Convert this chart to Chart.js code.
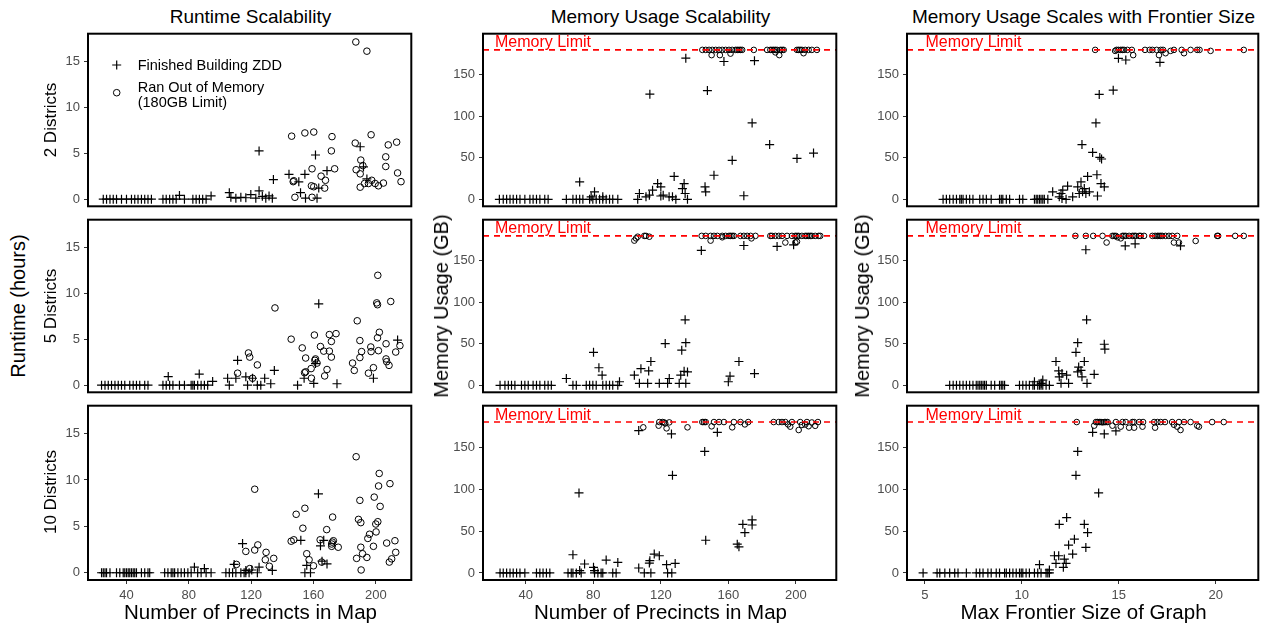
<!DOCTYPE html>
<html>
<head>
<meta charset="utf-8">
<script src="https://cdn.jsdelivr.net/npm/chart.js@4.4.1/dist/chart.umd.min.js"></script>
<style>
  body { margin: 0; background: #fff; width: 1271px; height: 626px; position: relative; overflow: hidden;
         font-family: "Liberation Sans", Arial, Helvetica, sans-serif; }
  canvas { position: absolute; }
  .t { position: absolute; white-space: nowrap; color: #000; line-height: 1; }
  .h { transform: translate(-50%, -50%); }
  .v { transform: translate(-50%, -50%) rotate(-90deg); }
  .l { transform: translate(0, -50%); }
</style>
</head>
<body>
<script>
// ---------- tick labels ----------
const runtimeTicks = [0, 5, 10, 15];
const memoryTicks = [0, 50, 100, 150];
const precinctTicks = [40, 80, 120, 160, 200];
const frontierTicks = [5, 10, 15, 20];
const memoryLimitGB = 180;

// ---------- runtime (hours) vs number of precincts ----------
// 2 districts
const rt2FinX = [25.1,27.2,29.4,31.5,33.6,36.8,40,43.2,45.3,47.4,49.6,51.7,53.8,56,
  63.4,65.5,67.7,69.8,71.9,74,77.2,82.6,84.7,86.8,88.9,91.1,94.3,
  106,107,110.2,113.4,116.6,119.8,123,125.1,127.2,129.4,131.5,133.6,
  125.1,134.3,144.3,150.6,154.5,151.7,154.9,162.3,161.3,163.4,168.7,190,192.1,194.3];
const rt2FinY = [0,0,0,0,0,0,0,0,0,0,0,0,0,0,
  0,0,0,0,0,0.4,0,0,0,0,0,0,0.35,
  0.7,0.2,0.1,0.2,0.15,0.5,0.1,0.9,0.3,0.1,0.35,0.1,
  5.25,2.13,2.7,1.88,2.7,0.7,0.1,0.1,4.8,1.2,3.1,5.7,3.5,2.2];
const rt2OomX = [187.2,194.3,146,154.5,160.2,171.9,171.5,173.6,159.1,147.4,147,158.7,160.2,164.9,167.7,167.2,148.1,159.1,
  186.8,187.4,190,190.4,191.7,197,190,192.8,195.3,197.4,199.6,201.7,204.9,208,206.4,206.4,213.4,214,216.2];
const rt2OomY = [17.1,16.1,6.85,7.2,7.3,6.8,5.25,3.3,3.3,2.0,1.9,1.45,1.35,2.5,2.05,1.2,0.2,0.2,
  6.1,3.2,2.75,4.25,3.65,7.0,1.3,1.7,1.7,2.05,1.7,1.45,1.75,5.9,4.6,3.55,6.2,2.85,1.9];

// 5 districts
const rt5FinX = [24.0,26.2,28.3,30.4,32.6,34.7,36.8,38.9,42.1,44.3,46.4,48.5,51.7,53.8,
  63.4,65.5,67.7,69.8,74,77.2,81.5,82.6,83.6,85.7,87.9,90,92.1,95.3,
  66.8,86.7,111.3,104.9,106,110.2,116.6,117.7,120.9,124,126.2,128.7,132.6,134.9,149.8,154,160.2,161.3,163.4,175.1,198.5,214];
const rt5FinY = [0,0,0,0,0,0,0,0,0,0,0,0,0,0,
  0,0,0,0,0,0,0,0,0,0,0,0,0,0.4,
  0.93,1.2,2.7,0.75,0,0.75,0.9,0,0.75,0,0,0.75,0.15,1.6,0,0.75,0.2,2.35,8.85,0.15,0.75,4.9];
const rt5OomX = [111.3,118.3,119.1,124,120.9,135.3,145.7,152.8,155,154.3,155,158.5,160.9,161.3,162.3,160.6,158.7,164.5,166.6,170.2,
  170.2,171.5,174.5,171.5,168.7,167.2,185.1,186.2,188.1,189.8,190.9,189.8,195.3,198.5,196.8,197,201.3,200.6,201.1,202.3,
  201.1,201.7,206.6,206.6,207,208.5,209.6,212.8,215.5];
const rt5OomY = [1.3,3.5,3.05,2.2,0.75,8.4,5.0,4.05,2.95,1.35,1.45,1.8,2.7,2.85,2.4,5.45,0.75,4.2,3.7,3.7,
  5.5,4.75,5.6,3.05,1.7,1.0,2.4,1.6,7.0,4.85,3.65,3.0,1.3,1.9,4.15,3.65,11.95,8.95,8.75,5.75,
  5.15,3.75,4.5,2.85,2.55,2.15,9.1,3.6,4.3];

// 10 districts
const rt10FinX = [24,25.1,26.2,27.2,29.4,33.6,35.7,37.9,38.9,40,41.1,42.1,43.2,44.3,45.3,46.4,49.6,51.7,53.8,54.9,
  64.5,66.6,68.7,69.8,70.9,73,75.1,77.2,79.4,81.5,83.6,85.7,87.9,90,91.1,94.3,
  103.8,106,108.1,110.2,113.4,115.5,116.6,118.7,
  114.5,109.1,116.6,120.4,125.1,124,133.6,151.9,154.5,158.1,155.7,163.2,164.5,166.6,165.5,168.7];
const rt10FinY = [0,0,0,0,0,0,0,0,0,0,0,0,0,0,0,0,0,0,0,0,
  0,0,0,0,0,0,0,0,0,0,0.6,0,0,0.45,0,0,
  0,0,0,0,0,0,0,0,
  3.15,0.9,0.25,0.3,0.6,0,0.25,3.5,0,0,0.8,8.5,2.9,3.5,1.25,0.95];
const rt10OomX = [187.4,122.3,116.6,122.3,124.3,129.6,129.1,134.5,131.7,110.6,119.1,145.7,147.4,148.9,153.2,154.5,155.7,157.2,160,165.3,
  164.3,168.5,171.7,172.1,172.8,171.7,172.3,175.9,187.7,189.8,188.9,190.4,190.4,191.5,190.6,194.3,194.9,196,198.5,199,
  200,200.2,201.3,202.8,201.8,202.2,209.1,207,208.7,210.2,212.3,212.8];
const rt10OomY = [12.5,9.0,2.3,2.45,3.0,2.2,1.4,1.55,0.7,0.9,0.45,3.4,3.55,6.3,4.8,6.95,2.05,1.4,0.75,1.15,
  3.55,4.65,3.1,3.3,3.45,2.85,6.0,2.75,1.55,7.8,5.75,5.4,2.75,2.05,0.3,1.65,3.7,4.15,2.85,8.15,
  5.25,4.4,5.5,7.15,9.35,10.7,9.6,3.2,1.15,1.5,3.45,2.2];

// ---------- memory usage (GB) vs number of precincts ----------
// 2 districts
const mem2FinX = [24.3,26.6,28.6,30.6,32.5,34.5,36.5,39.4,42.4,44.3,46.3,48.3,51.2,53.2,
  64,67.9,69.9,71.9,73.8,77.8,79.7,81.7,83.7,85.6,87.6,89.6,91.5,94.5,
  71.9,80.7,78.7,85.6,106.3,107.3,111.2,113.2,115.1,118.1,120,121.4,124.9,126.9,127.9,128.9,132.8,133.8,134.4,135.8,
  113.5,134.8,120,146.2,146.6,147.6,151.5,157.4,162.3,169.2,174.1,175.5,184.5,200.7,210.5];
const mem2FinY = [0,0,0,0,0,0,0,0,0,0,0,0,0,0,
  0,0,0,0,0,0,0,0,0,0,0,0,0,0,
  21,9,3,3,0,7,3,5,11,19,15,5,3,3,27.6,0,13,19,7,0,
  126.7,170,4,15,9,131,29,166,47,4.3,92,167,66,49.3,55.7];
const mem2OomX = [144.6,146.6,148.6,150.5,152.5,154.5,156.4,158.4,160.4,162.3,164.3,165.3,166.3,167.2,168.2,175.1,
  183,184.9,185.9,186.9,187.9,188.9,190.8,191.8,192.8,200.7,201.7,202.6,203.6,205.6,207.6,209.5,212.5,
  150.1,155,161.3,190.2,204.6,187.9];
const mem2OomY = [180,180,180,180,180,180,180,180,180,180,180,180,180,180,180,180,
  180,180,180,180,180,180,180,180,180,180,180,180,180,180,180,180,180,
  173.7,173.7,175.5,173.7,176,177];

// 5 districts
const mem5FinX = [24.7,27.6,29.6,31.5,33.5,37.4,39.4,41.4,44.3,46.3,48.3,51.2,53.2,55.1,
  67.9,69.9,75.8,77.8,79.7,81.7,85.6,87.6,89.6,91.5,94.5,
  64,80.1,83.3,85.2,95.5,104.3,107.3,108.2,112.2,112.8,114.1,119.1,122.6,124,125,130.9,131.8,132.4,134.8,134.8,134.4,133.8,135.8,
  144,160,161,166.3,175.5,169.2,188.9,198.7];
const mem5FinY = [0,0,0,0,0,0,0,0,0,0,0,0,0,0,
  0,0,0,0,0,0,0,0,0,0,0,
  8.2,39.7,21.2,12.2,4.3,12.2,2.4,20,2.4,17.3,28.7,2.4,50.3,2.4,8.2,2.4,12.2,42.4,2.4,51.4,78.9,16.9,16.1,
  162.5,4.3,11,28.7,14.1,168.4,167.3,169.2];
const mem5OomX = [104.3,105.3,106.3,110.2,111.2,113.2,
  144.2,146.6,149.5,151.5,153.5,156.4,158.4,160.4,161.3,162.3,163.3,167.2,169.2,171.2,173.2,176.1,
  184.9,185.9,187.9,189.9,191.8,194.8,197.7,199.7,200.7,201.7,203.6,205.6,206.6,207.6,208.6,209.5,211.5,213.5,214.5,
  149.5,156.4,173.7,193.8,199.7,200.7];
const mem5OomY = [174.3,177,179,180,180,179,
  180,180,180,180,180,180,180,180,180,180,180,180,180,180,180,180,
  180,180,180,180,180,180,180,180,180,180,180,180,180,180,180,180,180,180,180,
  174.3,178.3,177,172,172,173];

// 10 districts
const mem10FinX = [24.7,26.6,28.6,30.6,32.5,34.5,36.5,39.4,46.3,48.3,50.2,52.2,54.2,65,66.9,67.9,69.9,72.8,80.7,82.7,84.6,85.6,91.5,93.5,
  67.9,71.9,74.8,71.5,80.1,80.7,87.6,94.5,106.9,110.2,113.2,113.5,114.1,116.1,119.1,123.4,124,126.5,128.5,126.9,126.3,106.9,
  146,146.6,153.5,165.3,166.3,168.6,169.8,174.1,174.1];
const mem10FinY = [0,0,0,0,0,0,0,0,0,0,0,0,0,0,0,0,0,0,0,0,0,0,0,0,
  21.7,2.8,10.7,95.5,6.7,2.8,15.4,12.6,5.9,0,11.8,14.6,0,22.5,20.5,9.9,0,0,11.4,116.5,165.8,169.8,
  145,39,167.8,34.3,31.2,58,48.2,63.2,57.2];
const mem10OomX = [109.6,118.7,119.1,121,122,122.6,123.4,125,135.8,144.6,145.6,146.6,150.1,151.5,154.5,157.4,162.3,163.3,167.2,
  169.8,171.8,186.9,189.9,191.8,193.8,195.4,196.7,197.7,201.7,202.6,203.6,205.6,206.6,207.6,209.5,211.5,213.1];
const mem10OomY = [173.7,175.7,180,180,179.5,178.4,172.5,179.6,173.7,180,180,180,174.9,180,180,180,173.7,180,180,
  177.2,180,180,180,180,180,177.2,174.5,180,170.5,180,176.5,177,180,175,179.5,175.5,180];

// ---------- memory usage (GB) vs max frontier size ----------
// 2 districts
const fr2FinX = [5.94,6.11,6.28,6.46,6.63,6.8,6.88,6.97,7.14,7.31,7.48,7.83,8.0,8.17,8.42,8.85,8.94,9.02,9.2,9.37,9.88,10.05,
  10.65,10.74,10.82,10.91,10.99,11.08,11.16,11.34,
  11.59,11.93,12.02,12.11,12.07,12.36,12.28,12.62,12.88,12.96,13.05,13.1,13.13,13.22,13.3,13.39,13.48,13.65,13.82,13.87,
  13.9,13.99,14.02,14.11,14.08,14.25,14.71,14.98,15.36,17.12];
const fr2FinY = [0,0,0,0,0,0,0,0,0,0,0,0,0,0,0,0,0,0,0,0,0,0,
  0,0,0,0,0,0,0,0,
  9,3,7,11,1,16,0,3,15,7,21,66,9,13,7,27.6,9,56.5,92,29.6,
  4,126.3,50.5,48.6,19,15,131.5,169.8,167.8,165];
const fr2OomX = [13.78,14.81,14.88,14.98,15.1,15.19,15.27,15.44,15.67,15.74,16.35,16.59,16.73,16.95,17.07,17.16,17.28,
  17.41,17.67,17.84,18.24,18.36,18.7,19.04,19.16,19.73,21.44];
const fr2OomY = [180,178.8,180,180,180,180,180,180,180,173.7,180,180,180,180,173.7,180,180,
  176,178.8,180,180,176,180,180,180,178.8,180];

// 5 districts
const fr5FinX = [6.28,6.46,6.63,6.8,6.97,7.14,7.31,7.48,7.65,7.74,7.83,7.91,8.0,8.08,8.17,8.42,8.6,8.85,8.94,9.02,9.11,
  9.88,10.05,10.22,10.39,10.57,10.65,10.82,10.91,10.99,11.08,11.25,11.42,
  10.65,11.0,11.08,11.76,11.9,11.93,12.02,12.07,12.31,12.41,12.79,12.88,12.93,12.88,13.05,13.1,13.22,13.3,13.34,13.36,
  13.73,14.25,14.28,15.33,15.84,18.18];
const fr5FinY = [0,0,0,0,0,0,0,0,0,0,0,0,0,0,0,0,0,0,0,0,0,
  0,0,0,0,0,0,0,0,0,0,0,0,
  4.3,2.4,6.3,28.7,17.3,10.2,2.4,14.1,12.2,2.4,39.7,51.4,22,16.1,18,10.2,28.7,163.3,78.9,2.4,
  13.3,49.5,43.6,168,170.4,168];
const fr5OomX = [12.76,13.3,13.68,14.16,14.37,14.67,14.76,14.85,14.93,15.1,15.19,15.27,15.36,15.53,15.7,15.79,15.87,16.05,
  16.13,16.3,16.73,16.87,16.99,17.07,17.16,17.24,17.41,17.58,17.75,17.84,18.01,18.1,18.96,20.07,20.12,21.0,21.44];
const fr5OomY = [180,180,180,180,172,180,180,180,178.3,177,180,180,180,180,180,180,180,180,
  180,180,180,180,180,180,180,180,180,180,180,172,180,172,173.9,180,180,180,180];

// 10 districts
const fr10FinX = [4.91,5.63,5.77,6.03,6.28,6.54,6.71,7.14,7.65,7.83,8.0,8.25,8.42,8.68,8.85,9.11,9.2,9.37,9.54,9.71,9.88,
  9.97,10.05,10.22,10.39,10.65,10.82,10.99,11.25,11.34,11.42,
  10.91,11.42,11.68,11.9,11.76,11.93,12.19,12.14,12.28,12.31,12.41,12.62,12.71,12.79,12.88,13.22,13.3,13.39,13.65,13.96,
  14.25,14.85];
const fr10FinY = [0,0,0,0,0,0,0,0,0,0,0,0,0,0,0,0,0,0,0,0,0,
  0,0,0,0,0,0,0,0,0,0,
  9.9,3.6,20.5,20.5,11.4,58,16.6,6.7,11.4,66,33.2,22.5,40.3,116.5,145,58,30.4,48.2,167.8,95.5,
  165.8,169.4];
const fr10OomX = [12.83,13.73,13.82,13.9,13.99,14.08,14.16,14.25,14.33,14.42,14.67,14.85,15.1,15.19,15.36,15.53,15.7,15.79,
  15.79,16.05,16.22,16.25,16.82,16.87,16.99,17.16,17.38,17.75,17.84,18.01,18.1,18.18,18.36,18.7,19.04,19.13,19.81,20.41];
const fr10OomY = [180,175.7,180,180,180,180,179.6,180,180,180,175.7,180,174.5,180,180,173.3,180,180,
  173.3,180,174.5,180,180,173.3,180,180,180,180,176.8,174.5,180,170.5,180,180,175.7,174.5,180,180];

// ---------- layout ----------
const FONT = '"Liberation Sans", Arial, Helvetica, sans-serif';
const colLeft = [88, 483, 907], colRight = [413, 838, 1260];
const rowTop = [32, 218, 404], rowBottom = [208, 394, 580];
const YW = 45, PT = 4, PR = 4, PB = 4, XH = 34;

function pts(xs, ys) { return xs.map((x, i) => ({ x: x, y: ys[i] })); }

// black panel frame drawn over the data area
const framePlugin = {
  id: 'frame',
  afterDraw(chart) {
    const a = chart.chartArea, c = chart.ctx;
    c.save();
    c.strokeStyle = '#000'; c.lineWidth = 2;
    c.strokeRect(a.left, a.top, a.right - a.left, a.bottom - a.top);
    c.restore();
  }
};

// red dashed line for the memory cap with its label
function limitPlugin(labelX) {
  return {
    id: 'memLimit',
    afterDatasetsDraw(chart) {
      const a = chart.chartArea, c = chart.ctx;
      const y = chart.scales.y.getPixelForValue(memoryLimitGB);
      c.save();
      c.beginPath(); c.rect(a.left, a.top, a.right - a.left, a.bottom - a.top); c.clip();
      c.strokeStyle = '#FF0000'; c.lineWidth = 1.6; c.setLineDash([6, 5]);
      c.beginPath(); c.moveTo(a.left, y); c.lineTo(a.right, y); c.stroke();
      c.setLineDash([]);
      c.fillStyle = '#FF0000'; c.font = '16px ' + FONT;
      c.textAlign = 'left'; c.textBaseline = 'alphabetic';
      c.fillText('Memory Limit', chart.scales.x.getPixelForValue(labelX), y - 2.5);
      c.restore();
    }
  };
}

// legend symbols in the first panel
const legendPlugin = {
  id: 'legendMarks',
  afterDraw(chart) {
    const c = chart.ctx;
    const ox = colLeft[0] - YW, oy = rowTop[0] - PT;
    const px = 116.7 - ox, py1 = 65 - oy, py2 = 92.7 - oy, r = 4.5;
    c.save();
    c.strokeStyle = '#000'; c.lineWidth = 1.2;
    c.beginPath();
    c.moveTo(px - r, py1); c.lineTo(px + r, py1);
    c.moveTo(px, py1 - r); c.lineTo(px, py1 + r);
    c.stroke();
    c.lineWidth = 1;
    c.beginPath(); c.arc(px, py2, 3.3, 0, Math.PI * 2); c.stroke();
    c.restore();
  }
};

function axisCommon(ticksArr, fitFn, show) {
  return {
    type: 'linear',
    display: show,
    afterBuildTicks: s => { s.ticks = ticksArr.map(v => ({ value: v })); },
    afterFit: fitFn,
    grid: { drawOnChartArea: false, drawTicks: true, tickLength: 4, color: '#333333', lineWidth: 1 },
    border: { display: false },
    ticks: { color: '#4D4D4D', font: { size: 13, family: FONT }, padding: 4, maxRotation: 0, autoSkip: false }
  };
}

function makePanel(row, col, finX, finY, oomX, oomY, opts) {
  const L = colLeft[col], R = colRight[col], T = rowTop[row], B = rowBottom[row];
  const bottom = row === 2;
  const cv = document.createElement('canvas');
  const w = (R - L) + YW + PR, h = (B - T) + PT + (bottom ? XH : PB);
  cv.width = w; cv.height = h;
  cv.style.left = (L - YW) + 'px'; cv.style.top = (T - PT) + 'px';
  cv.style.width = w + 'px'; cv.style.height = h + 'px';
  document.body.appendChild(cv);

  const plugins = [framePlugin];
  if (opts.limitX !== undefined) plugins.push(limitPlugin(opts.limitX));
  if (opts.legend) plugins.push(legendPlugin);

  // fixed axis boxes so every panel's data area lands exactly on its frame
  const xs = axisCommon(opts.xTicks, s => {
    s.height = bottom ? XH : 0;
    s.paddingLeft = 0; s.paddingRight = 0; s.paddingTop = 0; s.paddingBottom = 0;
  }, bottom);
  xs.min = opts.xMin; xs.max = opts.xMax; xs.position = 'bottom';
  const ys = axisCommon(opts.yTicks, s => {
    s.width = YW;
    s.paddingLeft = 0; s.paddingRight = 0; s.paddingTop = 0; s.paddingBottom = 0;
  }, true);
  ys.min = opts.yMin; ys.max = opts.yMax; ys.position = 'left';

  new Chart(cv, {
    type: 'scatter',
    data: {
      datasets: [
        { label: 'Ran Out of Memory (180GB Limit)', data: pts(oomX, oomY), pointStyle: 'circle',
          pointRadius: opts.circleR, pointBorderColor: '#000', pointBackgroundColor: 'rgba(0,0,0,0)',
          pointBorderWidth: 1, borderColor: '#000', backgroundColor: 'rgba(0,0,0,0)' },
        { label: 'Finished Building ZDD', data: pts(finX, finY), pointStyle: 'cross',
          pointRadius: 4.5, pointBorderColor: '#000', pointBorderWidth: 1.2, borderColor: '#000' }
      ]
    },
    options: {
      responsive: false, animation: false, events: [], devicePixelRatio: 1,
      layout: { padding: { left: 0, top: PT, right: PR, bottom: bottom ? 0 : PB } },
      plugins: { legend: { display: false }, tooltip: { enabled: false } },
      scales: { x: xs, y: ys }
    },
    plugins: plugins
  });
}

const rtY = { yMin: -0.78, yMax: 18.0, yTicks: runtimeTicks };
const memY = { yMin: -8.4, yMax: 199.5, yTicks: memoryTicks };
const c1 = { xMin: 15.3, xMax: 222.8, xTicks: precinctTicks, circleR: 3.3 };
const c2 = { xMin: 14.6, xMax: 224.0, xTicks: precinctTicks, circleR: 2.8, limitX: 21.7 };
const c3 = { xMin: 4.08, xMax: 22.19, xTicks: frontierTicks, circleR: 2.8, limitX: 5.03 };

makePanel(0, 0, rt2FinX, rt2FinY, rt2OomX, rt2OomY, Object.assign({ legend: true }, c1, rtY));
makePanel(1, 0, rt5FinX, rt5FinY, rt5OomX, rt5OomY, Object.assign({}, c1, rtY));
makePanel(2, 0, rt10FinX, rt10FinY, rt10OomX, rt10OomY, Object.assign({}, c1, rtY));
makePanel(0, 1, mem2FinX, mem2FinY, mem2OomX, mem2OomY, Object.assign({}, c2, memY));
makePanel(1, 1, mem5FinX, mem5FinY, mem5OomX, mem5OomY, Object.assign({}, c2, memY));
makePanel(2, 1, mem10FinX, mem10FinY, mem10OomX, mem10OomY, Object.assign({}, c2, memY));
makePanel(0, 2, fr2FinX, fr2FinY, fr2OomX, fr2OomY, Object.assign({}, c3, memY));
makePanel(1, 2, fr5FinX, fr5FinY, fr5OomX, fr5OomY, Object.assign({}, c3, memY));
makePanel(2, 2, fr10FinX, fr10FinY, fr10OomX, fr10OomY, Object.assign({}, c3, memY));

// ---------- titles and labels ----------
function label(text, x, y, cls, size) {
  const d = document.createElement('div');
  d.className = 't ' + cls;
  d.textContent = text;
  d.style.left = x + 'px'; d.style.top = y + 'px';
  d.style.fontSize = size + 'px';
  document.body.appendChild(d);
}
const colMid = colLeft.map((l, i) => (l + colRight[i]) / 2);
const rowMid = rowTop.map((t, i) => (t + rowBottom[i]) / 2);

label('Runtime Scalability', colMid[0], 16, 'h', 19);
label('Memory Usage Scalability', colMid[1], 16, 'h', 19);
label('Memory Usage Scales with Frontier Size', colMid[2], 16, 'h', 19);

label('Number of Precincts in Map', colMid[0], 612, 'h', 20.5);
label('Number of Precincts in Map', colMid[1], 612, 'h', 20.5);
label('Max Frontier Size of Graph', colMid[2], 612, 'h', 20.5);

label('Runtime (hours)', 18, (rowTop[0] + rowBottom[2]) / 2, 'v', 20);
label('Memory Usage (GB)', 441, (rowTop[0] + rowBottom[2]) / 2, 'v', 20);
label('Memory Usage (GB)', 862, (rowTop[0] + rowBottom[2]) / 2, 'v', 20);

label('2 Districts', 50, rowMid[0], 'v', 17);
label('5 Districts', 50, rowMid[1], 'v', 17);
label('10 Districts', 50, rowMid[2], 'v', 17);

label('Finished Building ZDD', 137.7, 65, 'l', 14.5);
label('Ran Out of Memory', 137.7, 86.7, 'l', 14.5);
label('(180GB Limit)', 137.7, 102.3, 'l', 14.5);
</script>
</body>
</html>
